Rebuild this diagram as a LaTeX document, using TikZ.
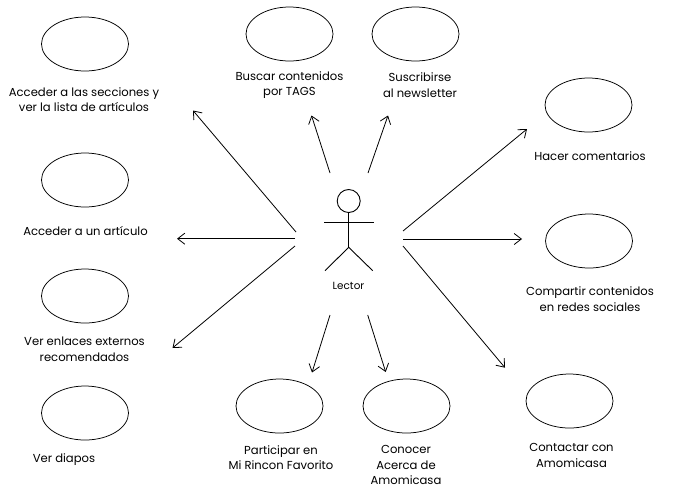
\documentclass[tikz,border=0pt]{standalone}
\usepackage{fontspec}
\setmainfont{Poppins}
\usetikzlibrary{arrows.meta}
\usetikzlibrary{shapes.geometric}

\tikzset{
	usecase/.style={draw, ellipse, line width=0.75pt, minimum width=87pt, minimum height=54pt, inner sep=0pt},
	caselabel/.style={align=center, font=\fontsize{11.6}{15.5}\selectfont, inner sep=0pt},
	link/.style={-{Straight Barb[angle=75:9pt]}, line width=0.8pt},
	limb/.style={line width=0.9pt}
}

\begin{document}
\begin{tikzpicture}[x=1pt, y=-1pt]
	\useasboundingbox (0,0) rectangle (676,496);
	% use cases
	\foreach \name/\x/\y in {secciones/85/44, articulo/85/180, enlaces/85/296, diapos/85/413, buscar/289.5/34, suscribir/415.5/34, comentar/588.5/105, compartir/589/241, contactar/569.5/401, participar/279.5/406, conocer/406.5/406} {
		\node[usecase] (\name) at (\x,\y) {};
	}
	% labels
	\foreach \name/\x/\y/\txt in {secciones/84/99.5/{Acceder a las secciones y\\ ver la lista de artículos}, articulo/85.5/231/{Acceder a un artículo}, enlaces/84.5/349.5/{Ver enlaces externos\\ recomendados}, diapos/64/460/{Ver diapos}, buscar/289.5/85/{Buscar contenidos\\ por TAGS}, suscribir/420/85/{Suscribirse\\ al newsletter}, comentar/590/156/{Hacer comentarios}, compartir/590/299/{Compartir contenidos\\ en redes sociales}, contactar/571.5/455.5/{Contactar con\\ Amomicasa}, participar/281/457.5/{Participar en\\ Mi Rincon Favorito}, conocer/406/465/{Conocer\\ Acerca de\\ Amomicasa}} {
		\node[caselabel] (\name label) at (\x,\y) {\txt};
	}
	% actor
	\node[draw, circle, minimum size=23pt, inner sep=0pt, limb] (head) at (348.7,201) {};
	\coordinate (hip) at (348.7,247.3);
	\coordinate (handl) at (324,222);
	\coordinate (handr) at (373.7,222);
	\coordinate (footl) at (325,270.7);
	\coordinate (footr) at (372.7,270.7);
	\draw[limb] (head.south) -- (hip);
	\draw[limb] (handl) -- (handr);
	\draw[limb] (footl) -- (hip) -- (footr);
	\node[font=\fontsize{10.4}{12}\selectfont, inner sep=0pt] (lector) at (348.5,285.5) {Lector};
	% arrows
	\foreach \i/\a/\b/\c/\d in {1/296/232/193/110.5, 2/295/238.7/177/238.7, 3/295/246/172.5/348, 4/330/173/311.5/115.5, 5/368/173/388/115.5, 6/403/231/527/129, 7/403/239/522/239, 8/403/246/505/367.7, 9/330/315/312/372.5, 10/367.7/315/385.7/372} {
		\coordinate (from\i) at (\a,\b);
		\coordinate (to\i) at (\c,\d);
		\draw[link] (from\i) -- (to\i);
	}
\end{tikzpicture}
\end{document}
